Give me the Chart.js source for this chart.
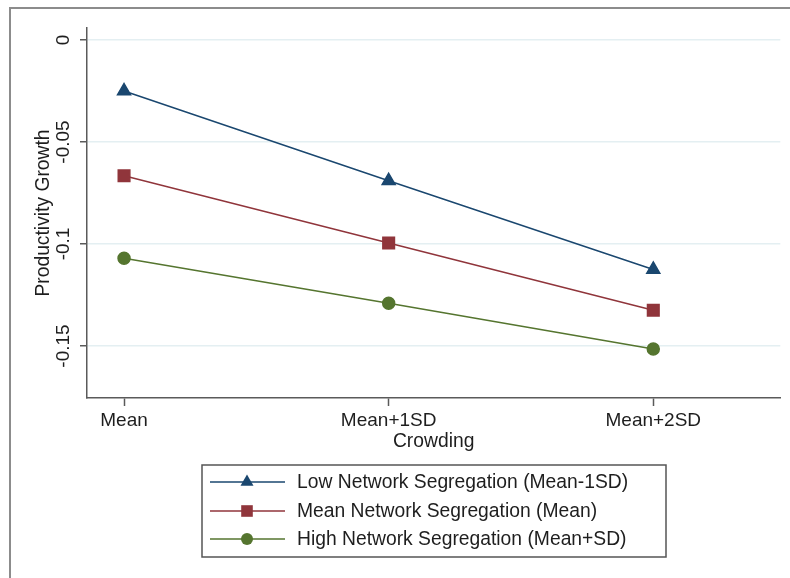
<!DOCTYPE html>
<html>
<head>
<meta charset="utf-8">
<script src="https://cdn.jsdelivr.net/npm/chart.js@4"></script>
<style>
  body { margin: 0; background: #fff; }
  #wrap { width: 790px; height: 578px; }
</style>
</head>
<body>
<div id="wrap"><canvas id="growthChart" width="790" height="578"></canvas></div>
<script>
// categories on the x axis
const categories = ['Mean', 'Mean+1SD', 'Mean+2SD'];

// series values
const lowSeg = [-0.025, -0.069, -0.1125];
const meanSeg = [-0.0665, -0.0995, -0.1325];
const highSeg = [-0.107, -0.129, -0.1515];

const seriesNames = [
    'Low Network Segregation (Mean-1SD)',
    'Mean Network Segregation (Mean)',
    'High Network Segregation (Mean+SD)'
];

const yTicks = [0, -0.05, -0.1, -0.15];

const FONT = '"Liberation Sans", Arial, Helvetica, sans-serif';
const TEXT = '#1e1e1e';
const AXIS = '#5a5a5a';

function toPoints(values) {
    return values.map((v, i) => ({ x: i, y: v }));
}

// outer frame of the graph region
const framePlugin = {
    id: 'frame',
    beforeDraw(chart) {
        const ctx = chart.ctx;
        ctx.save();
        ctx.strokeStyle = '#8c8c8c';
        ctx.lineWidth = 2;
        ctx.beginPath();
        ctx.moveTo(10, 578);
        ctx.lineTo(10, 8);
        ctx.lineTo(790, 8);
        ctx.stroke();
        ctx.restore();
    }
};

// boxed legend with line + marker samples
const boxLegend = {
    id: 'boxLegend',
    afterDraw(chart) {
        const ctx = chart.ctx;
        const left = 202, top = 465, w = 464, h = 92;
        ctx.save();
        ctx.strokeStyle = '#555';
        ctx.lineWidth = 1.5;
        ctx.strokeRect(left, top, w, h);
        const rows = [482, 511, 539];
        chart.data.datasets.forEach((ds, i) => {
            const y = rows[i];
            ctx.strokeStyle = ds.borderColor;
            ctx.lineWidth = ds.borderWidth;
            ctx.beginPath();
            ctx.moveTo(210, y);
            ctx.lineTo(285, y);
            ctx.stroke();
            ctx.fillStyle = ds.pointBackgroundColor;
            ctx.strokeStyle = ds.pointBorderColor;
            Chart.helpers.drawPoint(ctx, {
                pointStyle: ds.pointStyle,
                radius: ds.pointRadius,
                borderWidth: 0,
                rotation: 0
            }, 247, y);
            ctx.fillStyle = TEXT;
            ctx.font = '19.3px ' + FONT;
            ctx.textBaseline = 'middle';
            ctx.textAlign = 'left';
            ctx.fillText(ds.label, 297, y + 1);
        });
        ctx.restore();
    }
};

const ctx = document.getElementById('growthChart');

new Chart(ctx, {
    type: 'line',
    data: {
        datasets: [{
            label: seriesNames[0],
            data: toPoints(lowSeg),
            borderColor: '#1a476f',
            pointBackgroundColor: '#1a476f',
            pointBorderColor: '#1a476f',
            pointStyle: 'triangle',
            pointRadius: 7.5,
            borderWidth: 1.5
        },
        {
            label: seriesNames[1],
            data: toPoints(meanSeg),
            borderColor: '#90353b',
            pointBackgroundColor: '#90353b',
            pointBorderColor: '#90353b',
            pointStyle: 'rect',
            pointRadius: 8.2,
            borderWidth: 1.5
        },
        {
            label: seriesNames[2],
            data: toPoints(highSeg),
            borderColor: '#55752f',
            pointBackgroundColor: '#55752f',
            pointBorderColor: '#55752f',
            pointStyle: 'circle',
            pointRadius: 6,
            borderWidth: 1.5
        }]
    },
    options: {
        responsive: false,
        animation: false,
        layout: {
            padding: { left: 0, right: 9, top: 28, bottom: 126 }
        },
        plugins: {
            legend: { display: false },
            tooltip: { enabled: false }
        },
        elements: {
            line: { tension: 0 },
            point: { borderWidth: 0 }
        },
        scales: {
            x: {
                type: 'linear',
                min: -0.14,
                max: 2.48,
                afterBuildTicks: scale => {
                    scale.ticks = categories.map((c, i) => ({ value: i }));
                },
                afterFit: scale => { scale.height = 54; },
                ticks: {
                    color: TEXT,
                    font: { family: FONT, size: 19 },
                    padding: 3,
                    maxRotation: 0,
                    callback: value => categories[value]
                },
                grid: {
                    drawOnChartArea: false,
                    drawTicks: true,
                    tickLength: 8,
                    tickColor: AXIS,
                    tickWidth: 1.5
                },
                border: { color: AXIS, width: 1.5 },
                title: {
                    display: true,
                    text: 'Crowding',
                    color: TEXT,
                    font: { family: FONT, size: 19.3 },
                    padding: { top: 0, bottom: -1 }
                }
            },
            y: {
                min: -0.1755,
                max: 0.0059,
                afterBuildTicks: scale => {
                    scale.ticks = yTicks.map(v => ({ value: v }));
                },
                afterFit: scale => { scale.width = 87; },
                ticks: {
                    color: TEXT,
                    font: { family: FONT, size: 19 },
                    minRotation: 90,
                    maxRotation: 90,
                    crossAlign: 'center',
                    padding: -5,
                    callback: value => String(value)
                },
                grid: {
                    color: '#e4eff2',
                    lineWidth: 1.5,
                    tickLength: 7,
                    tickColor: AXIS,
                    tickWidth: 1.5
                },
                border: { color: AXIS, width: 1.5 },
                title: {
                    display: true,
                    text: 'Productivity Growth',
                    color: TEXT,
                    font: { family: FONT, size: 19.3 },
                    padding: { top: 32, bottom: 0 }
                }
            }
        }
    },
    plugins: [framePlugin, boxLegend]
});
</script>
</body>
</html>
